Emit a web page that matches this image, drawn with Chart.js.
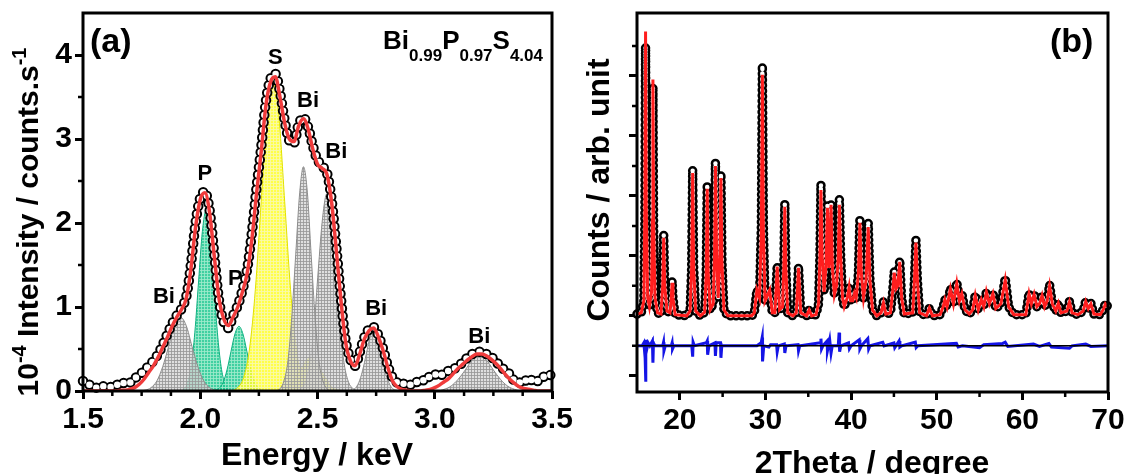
<!DOCTYPE html>
<html>
<head>
<meta charset="utf-8">
<script src="https://cdn.jsdelivr.net/npm/chart.js@4.4.1/dist/chart.umd.min.js"></script>
<style>
  html, body { margin: 0; padding: 0; background: #fff; }
  #wrap { position: relative; width: 1125px; height: 474px; overflow: hidden; }
  .panel { position: absolute; top: 0; height: 474px; }
  #pa { left: 0; width: 600px; }
  #pb { left: 565px; width: 560px; }
</style>
</head>
<body>
<div id="wrap">
  <div class="panel" id="pa"><canvas id="chartA"></canvas></div>
  <div class="panel" id="pb"><canvas id="chartB"></canvas></div>
</div>
<script>
const FONT = "'Liberation Sans', Arial, Helvetica, sans-serif";
Chart.defaults.font.family = FONT;
Chart.defaults.color = '#000';

// ---------- panel (a): EDS spectrum ----------
const energyTicks = [1.5, 2.0, 2.5, 3.0, 3.5];
const energyMinor = [1.625, 1.75, 1.875, 2.125, 2.25, 2.375, 2.625, 2.75, 2.875, 3.125, 3.25, 3.375];
const intensityTicks = [0, 1, 2, 3, 4];
const intensityMinor = [0.5, 1.5, 2.5, 3.5];

const energy = [1.50,1.52,1.54,1.56,1.58,1.60,1.62,1.64,1.66,1.68,1.70,1.72,1.74,1.76,1.78,1.80,1.82,1.84,1.86,1.88,
  1.90,1.92,1.94,1.96,1.98,2.00,2.02,2.04,2.06,2.08,2.10,2.12,2.14,2.16,2.18,2.20,2.22,2.24,2.26,2.28,
  2.30,2.32,2.34,2.36,2.38,2.40,2.42,2.44,2.46,2.48,2.50,2.52,2.54,2.56,2.58,2.60,2.62,2.64,2.66,2.68,
  2.70,2.72,2.74,2.76,2.78,2.80,2.82,2.84,2.86,2.88,2.90,2.92,2.94,2.96,2.98,3.00,3.02,3.04,3.06,3.08,
  3.10,3.12,3.14,3.16,3.18,3.20,3.22,3.24,3.26,3.28,3.30,3.32,3.34,3.36,3.38,3.40,3.42,3.44,3.46,3.48,3.50];
const measured = [0.12,0.09,0.05,0.04,0.06,0.04,0.05,0.08,0.06,0.11,0.10,0.15,0.19,0.24,0.30,0.36,0.44,0.55,0.68,0.80,
  0.90,0.98,1.12,1.50,2.00,2.30,2.38,2.15,1.62,1.08,0.82,0.75,0.90,1.02,1.20,1.45,1.88,2.42,2.90,3.45,
  3.72,3.78,3.56,3.22,2.98,2.95,3.18,3.26,3.14,2.92,2.75,2.68,2.60,2.28,1.72,1.10,0.60,0.38,0.30,0.46,
  0.64,0.74,0.76,0.66,0.50,0.30,0.16,0.10,0.08,0.10,0.07,0.10,0.14,0.12,0.18,0.20,0.17,0.22,0.24,0.26,
  0.30,0.34,0.40,0.44,0.46,0.47,0.44,0.41,0.35,0.30,0.24,0.20,0.12,0.10,0.14,0.10,0.15,0.12,0.16,0.20,0.18];
const fitted = [0.00,0.00,0.00,0.00,0.00,0.00,0.00,0.00,0.01,0.01,0.02,0.04,0.08,0.14,0.22,0.30,0.40,0.52,0.64,0.77,
  0.88,0.97,1.10,1.45,1.95,2.28,2.36,2.12,1.60,1.10,0.86,0.78,0.88,1.00,1.18,1.40,1.80,2.35,2.85,3.40,
  3.68,3.74,3.50,3.19,3.00,2.97,3.16,3.24,3.12,2.88,2.70,2.65,2.58,2.25,1.68,1.08,0.58,0.36,0.30,0.44,
  0.62,0.72,0.75,0.64,0.48,0.28,0.12,0.05,0.02,0.01,0.00,0.00,0.00,0.01,0.02,0.04,0.07,0.11,0.15,0.21,
  0.27,0.32,0.37,0.41,0.44,0.44,0.42,0.38,0.33,0.27,0.20,0.14,0.09,0.05,0.03,0.02,0.01,0.00,0.00,0.00,0.00];

// fitted peak components
const bi1X = [1.74,1.765,1.79,1.815,1.84,1.865,1.89,1.915,1.94,1.965,1.99,2.015,2.04,2.065,2.09];
const bi1Y = [0.00,0.01,0.04,0.12,0.29,0.53,0.78,0.88,0.78,0.53,0.29,0.12,0.04,0.01,0.00];
const p1X = [1.91,1.929,1.945,1.961,1.977,1.993,2.009,2.025,2.041,2.057,2.073,2.089,2.105,2.121,2.14];
const p1Y = [0.00,0.02,0.09,0.29,0.70,1.31,1.90,2.15,1.90,1.31,0.70,0.29,0.09,0.02,0.00];
const p2X = [2.045,2.063,2.08,2.097,2.114,2.131,2.148,2.165,2.182,2.199,2.216,2.233,2.25,2.267,2.285];
const p2Y = [0.00,0.01,0.03,0.10,0.25,0.47,0.68,0.77,0.68,0.47,0.25,0.10,0.03,0.01,0.00];
const s1X = [2.135,2.16,2.185,2.21,2.235,2.26,2.285,2.31,2.335,2.36,2.385,2.41,2.435,2.46,2.485];
const s1Y = [0.00,0.04,0.16,0.50,1.21,2.26,3.28,3.72,3.28,2.26,1.21,0.50,0.16,0.04,0.00];
const s2X = [2.335,2.38,2.425,2.47,2.515,2.56,2.605];
const s2Y = [0.00,0.05,0.24,0.40,0.24,0.05,0.00];
const bi2X = [2.325,2.341,2.357,2.374,2.39,2.407,2.424,2.44,2.457,2.473,2.49,2.506,2.523,2.539,2.555];
const bi2Y = [0.00,0.03,0.12,0.36,0.87,1.62,2.36,2.67,2.36,1.62,0.87,0.36,0.12,0.03,0.00];
const bi3X = [2.41,2.429,2.448,2.466,2.485,2.503,2.522,2.54,2.559,2.577,2.596,2.614,2.633,2.651,2.67];
const bi3Y = [0.00,0.03,0.10,0.32,0.76,1.43,2.07,2.35,2.07,1.43,0.76,0.32,0.10,0.03,0.00];
const bi4X = [2.628,2.644,2.66,2.676,2.692,2.708,2.724,2.74,2.756,2.772,2.788,2.804,2.82,2.836,2.852];
const bi4Y = [0.00,0.01,0.03,0.10,0.24,0.44,0.64,0.73,0.64,0.44,0.24,0.10,0.03,0.01,0.00];
const bi5X = [2.98,3.01,3.04,3.07,3.10,3.13,3.16,3.19,3.22,3.25,3.28,3.31,3.34,3.37,3.40];
const bi5Y = [0.00,0.00,0.02,0.06,0.14,0.25,0.37,0.42,0.37,0.25,0.14,0.06,0.02,0.00,0.00];

const peakNames = ['Bi', 'P', 'P', 'S', 'Bi', 'Bi', 'Bi', 'Bi'];
const peakLabelX = [1.845, 2.02, 2.15, 2.32, 2.46, 2.58, 2.75, 3.19];
const peakLabelY = [1.12, 2.58, 1.33, 3.96, 3.45, 2.85, 0.98, 0.64];

// ---------- panel (b): XRD refinement ----------
const thetaTicks = [20, 30, 40, 50, 60, 70];
const thetaMinor = [25, 35, 45, 55, 65];
const countTicks = [0, 1, 2, 3, 4, 5];
const countMinor = [0.5, 1.5, 2.5, 3.5, 4.5, 5.5];

const twoTheta = [15.0,15.5,15.8,15.92,16.0,16.08,16.25,16.45,16.7,16.8,16.86,16.94,17.1,17.4,17.8,18.0,18.12,18.24,18.5,18.85,
  19.0,19.1,19.2,19.45,20.8,21.2,21.38,21.5,21.62,21.85,22.4,22.9,23.08,23.2,23.32,23.55,23.9,24.05,24.16,24.3,
  24.48,24.68,24.8,24.92,25.15,25.6,28.4,28.7,29.0,29.3,29.52,29.64,29.76,29.95,30.5,30.8,31.1,31.37,31.65,32.0,
  32.14,32.26,32.38,32.6,33.2,33.6,33.86,34.12,34.8,35.1,35.4,35.9,36.2,36.36,36.48,36.62,36.85,37.05,37.24,37.42,
  37.54,37.66,37.82,38.05,38.3,38.5,38.63,38.78,39.0,39.2,39.55,39.77,39.95,40.2,40.4,40.6,40.85,41.03,41.2,41.45,
  41.75,42.0,42.2,42.5,43.0,43.5,43.78,44.05,44.6,44.85,45.04,45.25,45.45,45.68,45.9,46.2,47.2,47.4,47.57,47.74,
  48.0,48.8,49.14,49.5,50.4,50.75,50.95,51.2,51.6,51.95,52.34,52.65,52.93,53.3,53.8,54.2,54.5,54.85,55.2,55.5,
  55.8,56.15,56.56,56.9,57.5,58.0,58.4,59.0,60.4,60.78,61.05,61.37,61.7,62.0,62.3,62.6,62.9,63.18,63.5,63.9,
  64.2,64.5,65.2,65.5,65.8,66.5,67.1,67.4,67.7,68.0,68.35,69.1,69.5,69.7,70.0];
const observed = [1.03,1.05,1.25,2.6,5.49,2.6,1.3,1.15,1.4,2.5,4.82,2.5,1.3,1.05,1.03,1.5,2.35,1.5,1.08,1.05,
  1.3,1.58,1.3,1.02,1.0,1.08,1.8,3.44,1.8,1.08,1.0,1.06,1.7,3.19,1.7,1.1,1.2,2.0,3.56,2.0,
  1.3,2.0,3.37,1.9,1.1,1.0,1.0,1.05,1.43,1.3,2.5,5.17,2.5,1.25,1.43,1.05,1.05,1.84,1.1,1.15,
  1.8,2.87,1.8,1.05,1.0,1.05,1.82,1.05,1.0,1.1,1.0,1.02,1.2,2.0,3.19,2.0,1.4,1.8,2.85,1.8,
  2.0,2.89,1.8,1.35,1.5,2.0,2.95,2.0,1.3,1.15,1.3,1.5,1.25,1.25,1.38,1.3,1.7,2.63,1.7,1.3,
  1.6,2.56,1.6,1.1,1.0,1.05,1.24,1.03,1.05,1.4,1.74,1.45,1.5,1.93,1.3,1.03,1.05,1.6,2.26,1.6,
  1.05,1.0,1.13,1.0,1.02,1.15,1.27,1.15,1.46,1.2,1.56,1.25,1.38,1.1,1.03,1.1,1.35,1.1,1.27,1.15,
  1.4,1.2,1.38,1.12,1.2,1.63,1.15,1.02,1.02,1.38,1.2,1.37,1.15,1.2,1.35,1.15,1.25,1.52,1.2,1.08,
  1.21,1.05,1.08,1.24,1.05,1.02,1.08,1.25,1.12,1.21,1.03,1.02,1.12,1.21,1.15];
const calculated = [1.03,1.05,1.25,2.8,5.74,2.8,1.3,1.15,1.4,2.6,4.94,2.6,1.3,1.05,1.03,1.5,2.3,1.5,1.08,1.05,
  1.3,1.55,1.3,1.02,1.0,1.08,1.8,3.38,1.8,1.08,1.0,1.06,1.7,3.12,1.7,1.1,1.2,2.0,3.5,2.0,
  1.3,2.0,3.3,1.9,1.1,1.0,1.0,1.05,1.43,1.3,2.4,5.02,2.4,1.25,1.43,1.05,1.05,1.82,1.1,1.15,
  1.8,2.82,1.8,1.05,1.0,1.05,1.8,1.05,1.0,1.1,1.0,1.02,1.2,2.0,3.1,2.0,1.4,1.8,2.8,1.8,
  2.0,2.85,1.8,1.35,1.5,2.0,2.85,2.0,1.3,1.15,1.3,1.48,1.25,1.25,1.38,1.3,1.7,2.55,1.7,1.3,
  1.6,2.48,1.6,1.1,1.0,1.05,1.22,1.03,1.05,1.4,1.72,1.45,1.5,1.9,1.3,1.03,1.05,1.6,2.22,1.6,
  1.05,1.0,1.13,1.0,1.02,1.15,1.27,1.15,1.45,1.2,1.54,1.25,1.37,1.1,1.03,1.1,1.34,1.1,1.27,1.15,
  1.4,1.2,1.37,1.12,1.2,1.6,1.15,1.02,1.02,1.37,1.2,1.36,1.15,1.2,1.34,1.15,1.25,1.5,1.2,1.08,
  1.21,1.05,1.08,1.23,1.05,1.02,1.08,1.24,1.12,1.2,1.03,1.02,1.12,1.2,1.15];

const diffX = [15.0,15.6,15.8,15.95,16.0,16.05,16.15,16.3,16.5,16.8,16.86,16.92,17.1,18.0,18.1,18.15,18.3,19.0,19.1,19.15,
  19.3,21.4,21.5,21.55,21.7,23.1,23.2,23.25,23.4,24.1,24.16,24.25,24.75,24.8,24.9,25.2,29.0,29.5,29.62,29.66,
  29.8,30.4,30.6,31.3,31.37,31.5,32.2,32.26,32.4,33.8,33.86,34.0,36.4,36.48,36.55,36.7,37.2,37.24,37.5,37.66,
  37.8,38.5,38.6,38.66,38.8,39.7,39.8,40.0,40.95,41.03,41.2,41.95,42.05,42.2,43.7,43.85,45.0,45.1,45.6,45.7,
  45.9,47.5,47.6,47.8,52.3,52.5,53.0,55.0,55.5,57.7,58.0,58.3,61.3,62.0,63.1,63.4,65.5,65.8,67.4,68.0,70.0];
const diffY = [0.5,0.5,0.55,0.3,-0.1,0.6,0.45,0.55,0.5,0.58,0.22,0.55,0.5,0.5,0.56,0.42,0.5,0.5,0.55,0.45,
  0.5,0.5,0.32,0.56,0.5,0.55,0.58,0.35,0.5,0.55,0.33,0.55,0.55,0.3,0.5,0.5,0.5,0.55,0.64,0.24,
  0.5,0.48,0.52,0.52,0.4,0.5,0.53,0.38,0.5,0.52,0.42,0.5,0.55,0.62,0.45,0.5,0.58,0.42,0.6,0.38,
  0.5,0.5,0.72,0.4,0.5,0.55,0.45,0.5,0.6,0.45,0.5,0.62,0.45,0.5,0.56,0.5,0.55,0.47,0.58,0.48,
  0.5,0.56,0.47,0.5,0.54,0.48,0.5,0.47,0.52,0.54,0.56,0.49,0.53,0.49,0.54,0.48,0.46,0.5,0.53,0.49,0.5];
const zeroX = [15, 70];
const zeroY = [0.5, 0.5];

// ---------- helpers ----------
const pts = (xs, ys) => xs.map((x, i) => ({ x, y: ys[i] }));

function hatch(canvas, base, grid) {
  const t = document.createElement('canvas');
  t.width = 3; t.height = 3;
  const g = t.getContext('2d');
  g.fillStyle = base; g.fillRect(0, 0, 3, 3);
  g.fillStyle = grid; g.fillRect(0, 0, 3, 1); g.fillRect(0, 0, 1, 3);
  return canvas.getContext('2d').createPattern(t, 'repeat');
}

function comp(xs, ys, fill, line) {
  return {
    data: pts(xs, ys), showLine: true, fill: 'origin',
    backgroundColor: fill, borderColor: line, borderWidth: 1,
    pointRadius: 0, cubicInterpolationMode: 'monotone', order: 10
  };
}

// hollow circle chain along the measured curve: black dots, then white centres
function rings(data, outer, inner, gap, tension) {
  const base = { data, showLine: true, pointRadius: 0, tension, borderCapStyle: 'round',
    borderDash: [0, gap], clip: 10 };
  return [
    Object.assign({}, base, { borderColor: '#000', borderWidth: outer, order: 3 }),
    Object.assign({}, base, { borderColor: '#fff', borderWidth: inner, order: 2 })
  ];
}

function drawRich(ctx, r) {
  ctx.save();
  ctx.translate(r.x, r.y);
  if (r.rot) ctx.rotate(-Math.PI / 2);
  ctx.textBaseline = 'alphabetic';
  ctx.textAlign = 'left';
  let total = 0;
  r.parts.forEach(p => { ctx.font = `bold ${p.s}px ${FONT}`; p.w = ctx.measureText(p.t).width; total += p.w; });
  let cx = r.align === 'right' ? -total : r.align === 'center' ? -total / 2 : 0;
  r.parts.forEach(p => {
    ctx.font = `bold ${p.s}px ${FONT}`;
    ctx.fillText(p.t, cx, p.dy || 0);
    cx += p.w;
  });
  ctx.restore();
}

const decor = {
  id: 'decor',
  afterDatasetsDraw(chart, args, o) {
    const { ctx, chartArea: a, scales: { x, y } } = chart;
    ctx.save();
    ctx.strokeStyle = '#000';
    ctx.lineWidth = 3;
    ctx.strokeRect(a.left, a.top, a.right - a.left, a.bottom - a.top);
    ctx.lineWidth = 2.5;
    ctx.beginPath();
    o.xMinor.forEach(v => { const p = x.getPixelForValue(v); ctx.moveTo(p, a.bottom); ctx.lineTo(p, a.bottom + 5); });
    o.yMinor.forEach(v => { const p = y.getPixelForValue(v); ctx.moveTo(a.left, p); ctx.lineTo(a.left - 5, p); });
    ctx.stroke();
    ctx.fillStyle = '#000';
    ctx.textAlign = 'center';
    ctx.textBaseline = 'middle';
    ctx.font = `bold 22px ${FONT}`;
    (o.names || []).forEach((t, i) => ctx.fillText(t, x.getPixelForValue(o.lx[i]), y.getPixelForValue(o.ly[i])));
    (o.rich || []).forEach(r => drawRich(ctx, r));
    ctx.restore();
  }
};

function axis(min, max, ticks, fmt, size, isX) {
  return {
    type: 'linear', min, max,
    afterBuildTicks: s => { s.ticks = ticks.map(v => ({ value: v })); },
    ticks: { callback: fmt, font: { size: 30, weight: 'bold' }, color: '#000', padding: 3, maxRotation: 0, autoSkip: false },
    grid: { drawOnChartArea: false, drawTicks: true, tickLength: 8, tickWidth: 3, tickColor: '#000' },
    border: { display: false },
    afterFit: s => {
      if (isX) { s.height = size; s.paddingLeft = 0; s.paddingRight = 0; }
      else { s.width = size; s.paddingTop = 0; s.paddingBottom = 0; }
    }
  };
}

const baseOpts = {
  responsive: true, maintainAspectRatio: false, animation: false, devicePixelRatio: 1, events: []
};

// ---------- chart (a) ----------
const cA = document.getElementById('chartA');
const grayFill = hatch(cA, 'rgba(215,215,215,0.8)', 'rgba(150,150,150,0.8)');
const greenFill = hatch(cA, 'rgba(30,200,145,0.85)', 'rgba(160,235,205,0.85)');
const yellowFill = hatch(cA, 'rgba(255,255,40,0.85)', 'rgba(250,250,170,0.9)');

new Chart(cA, {
  type: 'scatter',
  data: {
    datasets: [
      comp(bi1X, bi1Y, grayFill, '#8c8c8c'),
      comp(bi2X, bi2Y, grayFill, '#8c8c8c'),
      comp(bi3X, bi3Y, grayFill, '#8c8c8c'),
      comp(bi4X, bi4Y, grayFill, '#8c8c8c'),
      comp(bi5X, bi5Y, grayFill, '#8c8c8c'),
      comp(s2X, s2Y, yellowFill, '#d8d800'),
      comp(s1X, s1Y, yellowFill, '#e0e000'),
      comp(p2X, p2Y, greenFill, '#10b080'),
      comp(p1X, p1Y, greenFill, '#10b080'),
      ...rings(pts(energy, measured), 10.5, 6.5, 7.5, 0.3),
      { data: pts(energy, fitted), showLine: true, pointRadius: 0, borderColor: '#f03c3c', borderWidth: 3.5,
        cubicInterpolationMode: 'monotone', order: 1 }
    ]
  },
  options: Object.assign({}, baseOpts, {
    layout: { padding: { left: 0, right: 48, top: 13, bottom: 0 } },
    plugins: {
      legend: { display: false }, tooltip: { enabled: false },
      decor: {
        xMinor: energyMinor, yMinor: intensityMinor,
        names: peakNames, lx: peakLabelX, ly: peakLabelY,
        rich: [
          { parts: [{ t: '(a)', s: 34 }], x: 90, y: 52, align: 'left' },
          { parts: [{ t: 'Bi', s: 26 }, { t: '0.99', s: 17, dy: 12 }, { t: 'P', s: 26 }, { t: '0.97', s: 17, dy: 12 },
                    { t: 'S', s: 26 }, { t: '4.04', s: 17, dy: 12 }], x: 543, y: 49, align: 'right' },
          { parts: [{ t: '10', s: 30 }, { t: '-4', s: 20, dy: -12 }, { t: ' Intensity / counts.s', s: 30 }, { t: '-1', s: 20, dy: -12 }],
            x: 38, y: 222, align: 'center', rot: true },
          { parts: [{ t: 'Energy / keV', s: 32 }], x: 317, y: 465, align: 'center' }
        ]
      }
    },
    scales: {
      x: axis(1.5, 3.5, energyTicks, v => v.toFixed(1), 83, true),
      y: axis(0, 4.5, intensityTicks, v => String(v), 83, false)
    }
  }),
  plugins: [decor]
});

// ---------- chart (b) ----------
const cB = document.getElementById('chartB');
new Chart(cB, {
  type: 'scatter',
  data: {
    datasets: [
      { data: pts(diffX, diffY), showLine: true, pointRadius: 0, borderColor: '#1414e6', borderWidth: 3, order: 6 },
      { data: pts(zeroX, zeroY), showLine: true, pointRadius: 0, borderColor: '#000', borderWidth: 1.5, order: 5 },
      ...rings(pts(twoTheta, observed), 9.5, 4.5, 5.5, 0),
      { data: pts(twoTheta, calculated), showLine: true, pointRadius: 0, borderColor: '#ff1e1e', borderWidth: 3, order: 1 }
    ]
  },
  options: Object.assign({}, baseOpts, {
    layout: { padding: { left: 0, right: 17, top: 13, bottom: 0 } },
    plugins: {
      legend: { display: false }, tooltip: { enabled: false },
      decor: {
        xMinor: thetaMinor, yMinor: countMinor,
        rich: [
          { parts: [{ t: '(b)', s: 34 }], x: 485, y: 52, align: 'left' },
          { parts: [{ t: 'Counts / arb. unit', s: 32 }], x: 44, y: 190, align: 'center', rot: true },
          { parts: [{ t: '2Theta / degree', s: 32 }], x: 307, y: 473, align: 'center' }
        ]
      }
    },
    scales: {
      x: axis(15, 70, thetaTicks, v => String(v), 82, true),
      y: axis(-0.27, 6.05, countTicks, () => '', 72, false)
    }
  }),
  plugins: [decor]
});
</script>
</body>
</html>
